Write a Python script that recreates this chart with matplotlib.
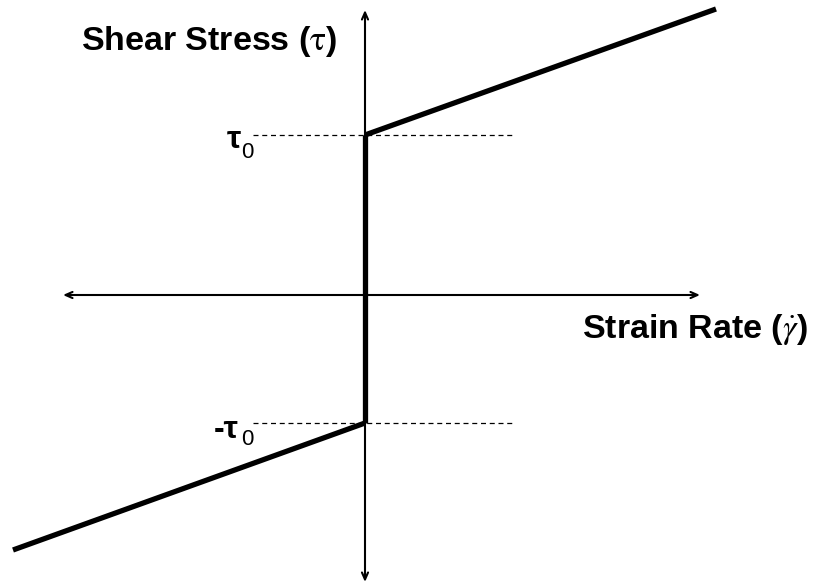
import matplotlib
matplotlib.use('Agg')
import matplotlib.pyplot as plt

plt.rcParams['font.family'] = ['Liberation Sans', 'DejaVu Sans']
plt.rcParams['mathtext.fontset'] = 'stix'

# Bingham plastic: yield stress, then linear rise with strain rate
tau0_pos = 1.60
tau0_neg = -1.28
rate_pos = [0.0, 3.51]
stress_pos = [1.60, 2.86]
rate_neg = [0.0, -3.52]
stress_neg = [-1.28, -2.55]

# axis extents (arrows)
x_axis = [-3.02, 3.35]
y_axis = [-2.87, 2.85]
dash_x = [-1.12, 1.47]

fig = plt.figure(figsize=(8.22, 5.84), dpi=100)
ax = fig.add_axes([0, 0, 1, 1])
ax.set_xlim(-3.65, 4.57)
ax.set_ylim(-2.89, 2.95)
ax.axis('off')

# axes with arrow heads at both ends
arrow = dict(arrowstyle='<->,head_length=0.5,head_width=0.22', color='black', lw=1.5,
             shrinkA=0, shrinkB=0)
ax.annotate('', xy=(x_axis[1], 0), xytext=(x_axis[0], 0), arrowprops=arrow)
ax.annotate('', xy=(0, y_axis[1]), xytext=(0, y_axis[0]), arrowprops=arrow)

# dashed yield stress guides
ax.plot(dash_x, [tau0_pos] * 2, color='black', lw=0.9, ls=(0, (4, 3)))
ax.plot(dash_x, [tau0_neg] * 2, color='black', lw=0.9, ls=(0, (4, 3)))

# the flow curve
ax.plot(rate_pos, stress_pos, color='black', lw=3.8, solid_capstyle='butt')
ax.plot(rate_neg, stress_neg, color='black', lw=3.8, solid_capstyle='butt')
ax.plot([0, 0], [tau0_neg, tau0_pos], color='black', lw=3.8, solid_capstyle='butt')

# axis titles
ax.text(-2.84, 2.45, 'Shear Stress ($\\mathrm{\\tau}$)', fontsize=24.5, fontweight='bold',
        ha='left', va='baseline')
ax.text(2.17, -0.43, 'Strain Rate ($\\dot{\\gamma}$)', fontsize=24.5, fontweight='bold',
        ha='left', va='baseline')

# yield stress labels
ax.text(-1.24, 1.47, 'τ', fontsize=23, fontweight='bold', ha='right', va='baseline')
ax.text(-1.24, 1.37, '0', fontsize=16, ha='left', va='baseline')
ax.text(-1.26, -1.43, '-τ', fontsize=23, fontweight='bold', ha='right', va='baseline')
ax.text(-1.24, -1.50, '0', fontsize=16, ha='left', va='baseline')

fig.savefig('out.png', dpi=100, facecolor='white')
